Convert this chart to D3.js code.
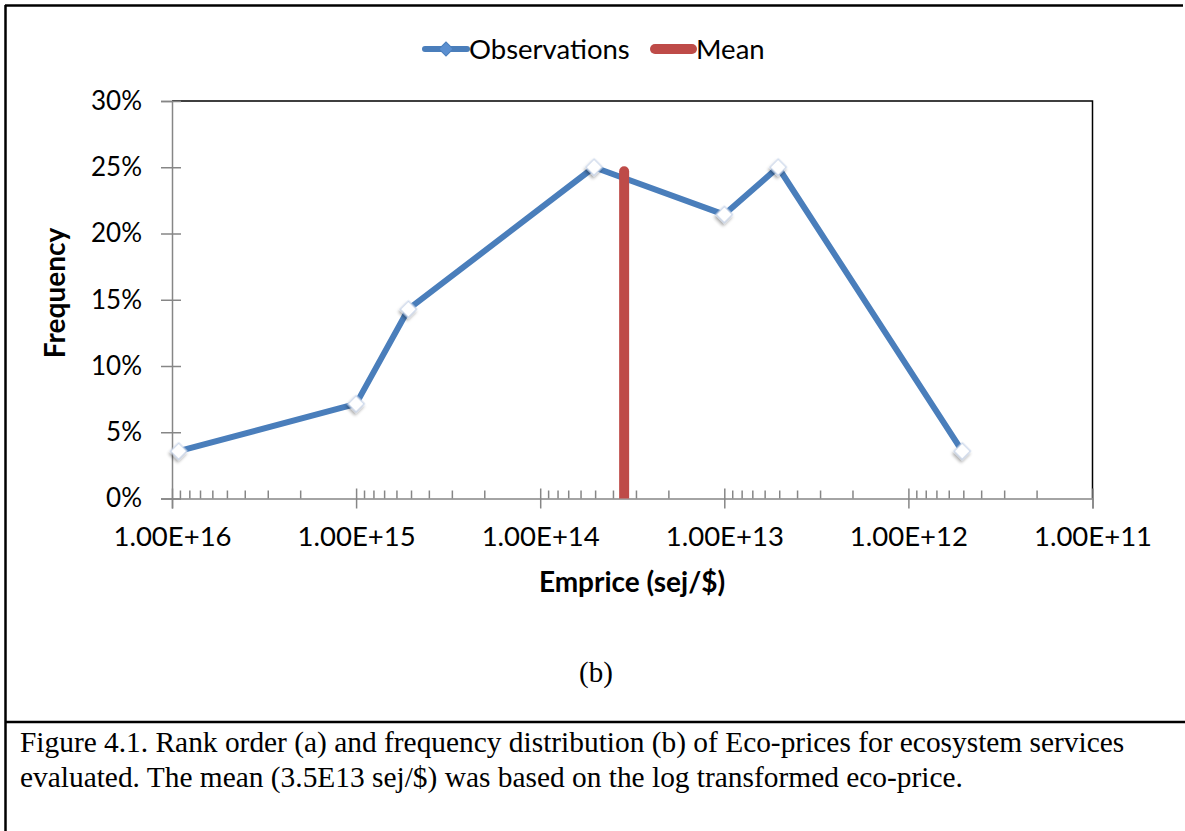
<!DOCTYPE html>
<html>
<head>
<meta charset="utf-8">
<script src="https://cdn.jsdelivr.net/npm/d3@7"></script>
<style>
  html, body { margin: 0; padding: 0; background: #fff; }
  svg { display: block; }
</style>
</head>
<body>
<svg id="fig" width="1185" height="831"></svg>
<script>
// Eco-price values (sej/$) and the share of observations in each bin
const emprice = [9.2e15, 1e15, 5.2e14, 5.1e13, 1e13, 5.1e12, 5.1e11];
const frequency = [1/28, 2/28, 4/28, 7/28, 6/28, 7/28, 1/28];
// Mean of the log-transformed eco-price and the height of its marker line
const meanPrice = [3.5e13];
const meanHeight = [0.247];
// Axis ticks
const xTicks = [1e16, 1e15, 1e14, 1e13, 1e12, 1e11];
const yTicks = [0, 0.05, 0.10, 0.15, 0.20, 0.25, 0.30];
const legendLabels = ["Observations", "Mean"];
const captionLines = [
  "Figure 4.1. Rank order (a) and frequency distribution (b) of Eco-prices for ecosystem services",
  "evaluated. The mean (3.5E13 sej/$) was based on the log transformed eco-price."
];

const svg = d3.select("#fig");
const sans = "Lato, 'Open Sans', sans-serif";
const serif = "'Liberation Serif', 'Times New Roman', serif";
const blue = "#4A7EBB", red = "#BE4B48", axisGray = "#868686";

const plot = { left: 172, right: 1092.5, top: 101, bottom: 498.5 };

const x = d3.scaleLog().domain([1e16, 1e11]).range([plot.left, plot.right]);
const y = d3.scaleLinear().domain([0, 0.30]).range([plot.bottom, plot.top]);

// Figure frame
const frame = svg.append("g").attr("stroke", "#000").attr("stroke-width", 2.5);
frame.append("line").attr("x1", 5).attr("x2", 1183).attr("y1", 5.5).attr("y2", 5.5);
frame.append("line").attr("x1", 5.5).attr("x2", 5.5).attr("y1", 5).attr("y2", 831);
frame.append("line").attr("x1", 5).attr("x2", 1185).attr("y1", 722).attr("y2", 722);

// Plot-area border (top and right; left/bottom are covered by the axes)
svg.append("path")
  .attr("d", `M${plot.left},${plot.top}H${plot.right}V${plot.bottom}`)
  .attr("fill", "none").attr("stroke", "#000").attr("stroke-width", 1.5);

// Minor log ticks inside each decade
const minor = [];
for (let d = 11; d < 16; d++) for (let k = 2; k <= 9; k++) minor.push(k * Math.pow(10, d));
svg.append("g").selectAll("line").data(minor).join("line")
  .attr("x1", d => x(d)).attr("x2", d => x(d))
  .attr("y1", plot.bottom - 8).attr("y2", plot.bottom)
  .attr("stroke", axisGray).attr("stroke-width", 1.5);

// X axis
const fmtE = v => "1.00E+" + Math.round(Math.log10(v));
const xAxis = svg.append("g")
  .attr("transform", `translate(0,${plot.bottom})`)
  .call(d3.axisBottom(x).tickValues(xTicks).tickFormat(fmtE).tickSize(10).tickPadding(18));
xAxis.select(".domain").attr("stroke", axisGray).attr("stroke-width", 1.5);
xAxis.selectAll(".tick line").attr("y1", -10).attr("stroke", axisGray).attr("stroke-width", 1.5);
xAxis.selectAll(".tick text").attr("font-family", sans).attr("font-size", 27.5).attr("fill", "#000");

// Y axis
const yAxis = svg.append("g")
  .attr("transform", `translate(${plot.left},0)`)
  .call(d3.axisLeft(y).tickValues(yTicks).tickFormat(d3.format(".0%")).tickSize(11).tickPadding(19));
yAxis.select(".domain").attr("stroke", axisGray).attr("stroke-width", 1.5);
yAxis.selectAll(".tick line").attr("x2", 9).attr("x1", -11).attr("stroke", axisGray).attr("stroke-width", 1.5);
yAxis.selectAll(".tick text").attr("font-family", sans).attr("font-size", 26).attr("fill", "#000");

// Axis titles
svg.append("text")
  .attr("x", 632).attr("y", 592)
  .attr("text-anchor", "middle")
  .attr("font-family", sans).attr("font-weight", "bold").attr("font-size", 28)
  .text("Emprice (sej/$)");
svg.append("text")
  .attr("transform", "translate(65,293) rotate(-90)")
  .attr("text-anchor", "middle")
  .attr("font-family", sans).attr("font-weight", "bold").attr("font-size", 28)
  .text("Frequency");

// Clip marks to the plot area
svg.append("clipPath").attr("id", "plotClip")
  .append("rect").attr("x", plot.left).attr("y", plot.top - 20)
  .attr("width", plot.right - plot.left).attr("height", plot.bottom - plot.top + 20);

const pts = emprice.map((v, i) => [v, frequency[i]]);

// Observations line
svg.append("path")
  .datum(pts)
  .attr("d", d3.line().x(d => x(d[0])).y(d => y(d[1])))
  .attr("fill", "none").attr("stroke", blue).attr("stroke-width", 6)
  .attr("stroke-linejoin", "round");

// Mean line
svg.append("g").attr("clip-path", "url(#plotClip)")
  .selectAll("line").data(meanPrice).join("line")
  .attr("x1", d => x(d)).attr("x2", d => x(d))
  .attr("y1", y(0)).attr("y2", (d, i) => y(meanHeight[i]))
  .attr("stroke", red).attr("stroke-width", 10).attr("stroke-linecap", "round");

// Diamond markers with a soft shadow
const defs = svg.append("defs");
const f = defs.append("filter").attr("id", "shadow").attr("x", "-50%").attr("y", "-50%").attr("width", "200%").attr("height", "200%");
f.append("feDropShadow").attr("dx", 1).attr("dy", 2.5).attr("stdDeviation", 1.6)
  .attr("flood-color", "#000").attr("flood-opacity", 0.35);

const diamond = d3.symbol(d3.symbolSquare, 135);
svg.append("g").selectAll("path").data(pts).join("path")
  .attr("d", diamond)
  .attr("transform", d => `translate(${x(d[0])},${y(d[1])}) rotate(45)`)
  .attr("fill", "#fff").attr("stroke", "#C9D6EA").attr("stroke-width", 1.2)
  .attr("filter", "url(#shadow)");

// Legend
const lg = svg.append("g");
lg.append("line").attr("x1", 425).attr("x2", 467).attr("y1", 49).attr("y2", 49)
  .attr("stroke", blue).attr("stroke-width", 6).attr("stroke-linecap", "round");
lg.append("path").attr("d", d3.symbol(d3.symbolSquare, 100))
  .attr("transform", "translate(446,49) rotate(45)")
  .attr("fill", "#5B8FD0").attr("stroke", "#4A7EBB").attr("stroke-width", 1);
lg.append("text").attr("x", 469).attr("y", 59)
  .attr("font-family", sans).attr("font-size", 27.5).text(legendLabels[0]);
lg.append("line").attr("x1", 655).attr("x2", 692).attr("y1", 49).attr("y2", 49)
  .attr("stroke", red).attr("stroke-width", 10).attr("stroke-linecap", "round");
lg.append("text").attr("x", 696).attr("y", 59)
  .attr("font-family", sans).attr("font-size", 27.5).text(legendLabels[1]);

// Panel label
svg.append("text").attr("x", 596).attr("y", 682)
  .attr("text-anchor", "middle")
  .attr("font-family", serif).attr("font-size", 29).text("(b)");

// Caption
svg.append("g").selectAll("text").data(captionLines).join("text")
  .attr("x", 20).attr("y", (d, i) => 752 + i * 35)
  .attr("font-family", serif).attr("font-size", 29.4)
  .text(d => d);
</script>
</body>
</html>
